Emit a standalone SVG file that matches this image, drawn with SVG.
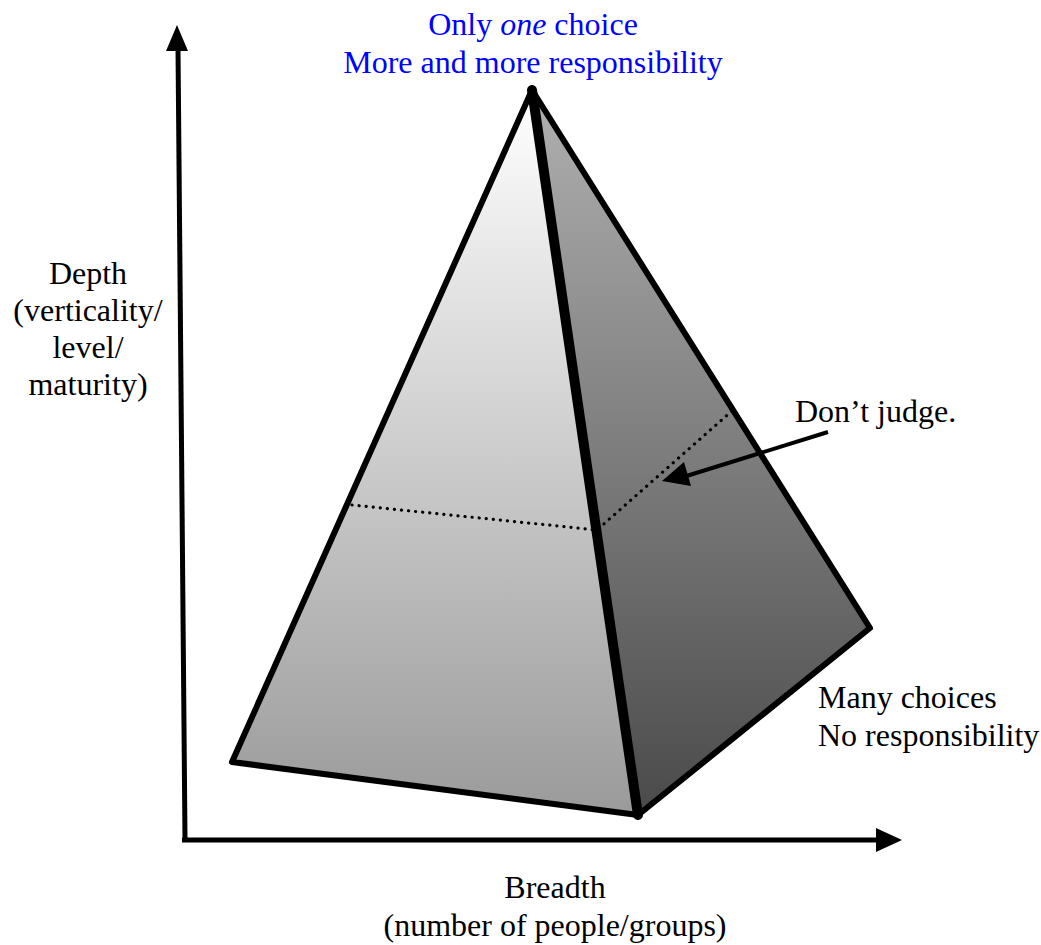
<svg xmlns="http://www.w3.org/2000/svg" width="1041" height="945" viewBox="0 0 1041 945">
<defs>
<linearGradient id="gLeft" x1="0" y1="90" x2="0" y2="815" gradientUnits="userSpaceOnUse">
<stop offset="0" stop-color="#ffffff"/>
<stop offset="1" stop-color="#9a9a9a"/>
</linearGradient>
<linearGradient id="gRight" x1="0" y1="90" x2="0" y2="815" gradientUnits="userSpaceOnUse">
<stop offset="0" stop-color="#b0b0b0"/>
<stop offset="1" stop-color="#4a4a4a"/>
</linearGradient>
</defs>
<style>
.blue{fill:#0000ff}
.edge{stroke:#000;stroke-width:6;stroke-linejoin:round;fill:none}
.dot{stroke:#000;stroke-width:3.2;stroke-dasharray:0.1 7;stroke-linecap:round;fill:none}
</style>
<g id="axes">
<line x1="185" y1="840" x2="178" y2="48" stroke="#000" stroke-width="5"/>
<polygon points="177,25 166,51 188,51" fill="#000"/>
<line x1="182" y1="840" x2="878" y2="840" stroke="#000" stroke-width="5"/>
<polygon points="902,840 876,828 876,852" fill="#000"/>
</g>
<g id="pyramid">
<polygon points="532,90 232,762 638,815" fill="url(#gLeft)"/>
<polygon points="532,90 638,815 870,628" fill="url(#gRight)"/>
<polyline class="edge" points="532,90 232,762 638,815 870,628 532,90"/>
<line x1="532" y1="90" x2="638" y2="815" stroke="#000" stroke-width="10" stroke-linecap="round"/>
</g>
<g id="connectors">
<polyline class="dot" points="352,505 597,530 733,410"/>
<line x1="828" y1="432" x2="680" y2="478" stroke="#000" stroke-width="4"/>
<polygon points="662,481 684,462 691,486" fill="#000"/>
</g>
<g id="labels" font-family="Liberation Serif" font-size="32" fill="#000">
<text class="blue" x="533" y="35" text-anchor="middle">Only <tspan font-style="italic">one</tspan> choice</text>
<text class="blue" x="533" y="73" text-anchor="middle">More and more responsibility</text>
<text x="88" y="284" text-anchor="middle">Depth</text>
<text x="88" y="321" text-anchor="middle">(verticality/</text>
<text x="88" y="358" text-anchor="middle">level/</text>
<text x="88" y="395" text-anchor="middle">maturity)</text>
<text x="795" y="422">Don’t judge.</text>
<text x="818" y="708">Many choices</text>
<text x="818" y="746">No responsibility</text>
<text x="555" y="898" text-anchor="middle">Breadth</text>
<text x="555" y="936" text-anchor="middle">(number of people/groups)</text>
</g>
</svg>
